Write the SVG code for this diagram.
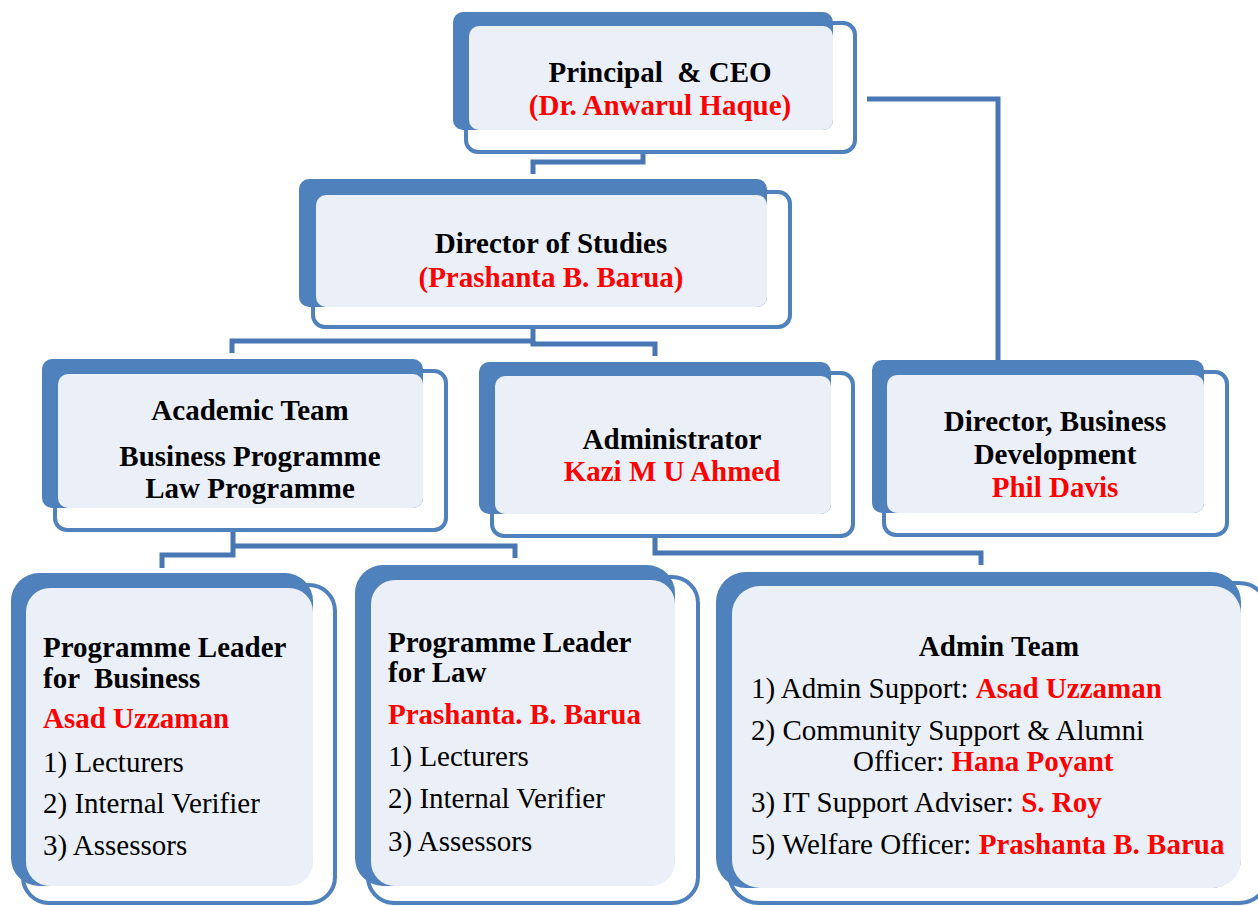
<svg xmlns="http://www.w3.org/2000/svg" width="1258" height="906" viewBox="0 0 1258 906">
<style>
.a{fill:#4F81BD}
.b{fill:#FFFFFF;stroke:#4F81BD;stroke-width:4}
.l{fill:#EBF0F8}
.c{fill:none;stroke:#4877B3;stroke-width:5}
text{font-family:"Liberation Serif","Times New Roman",serif;font-size:29px;fill:#000}
.h{font-weight:bold}
.m{text-anchor:middle}
.r{fill:#FF0000;font-weight:bold}
</style>
<rect width="1258" height="906" fill="#FFFFFF"/>
<g id="connectors">
<path class="c" d="M643,150 V162 H533 V174"/>
<path class="c" d="M867,99 H998 V362"/>
<path class="c" d="M533,325 V341 H232 V353"/>
<path class="c" d="M533,341 V344 H655 V356"/>
<path class="c" d="M233,528 V555 H162 V568"/>
<path class="c" d="M233,546 H515 V558"/>
<path class="c" d="M655,534 V553 H981 V565"/>
</g>
<g id="principal">
<rect class="b" x="466" y="23" width="389" height="129" rx="12"/>
<rect class="a" x="453" y="12" width="380" height="118" rx="10"/>
<rect class="l" x="469" y="26" width="364" height="104" rx="10"/>
<text class="h m" x="660" y="82" xml:space="preserve">Principal  &amp; CEO</text>
<text class="r m" x="660" y="115">(Dr. Anwarul Haque)</text>
</g>
<g id="director-studies">
<rect class="b" x="313" y="192" width="477" height="135" rx="12"/>
<rect class="a" x="299" y="179" width="468" height="128" rx="10"/>
<rect class="l" x="316" y="195" width="451" height="112" rx="10"/>
<text class="h m" x="551" y="253">Director of Studies</text>
<text class="r m" x="551" y="287">(Prashanta B. Barua)</text>
</g>
<g id="academic-team">
<rect class="b" x="55" y="371" width="391" height="159" rx="12"/>
<rect class="a" x="42" y="359" width="381" height="149" rx="10"/>
<rect class="l" x="58" y="374" width="365" height="134" rx="10"/>
<text class="h m" x="250" y="420">Academic Team</text>
<text class="h m" x="250" y="466">Business Programme</text>
<text class="h m" x="250" y="498">Law Programme</text>
</g>
<g id="administrator">
<rect class="b" x="492" y="373" width="361" height="163" rx="12"/>
<rect class="a" x="479" y="362" width="352" height="152" rx="10"/>
<rect class="l" x="495" y="376" width="336" height="138" rx="10"/>
<text class="h m" x="672" y="449">Administrator</text>
<text class="r m" x="672" y="481">Kazi M U Ahmed</text>
</g>
<g id="director-business">
<rect class="b" x="884" y="372" width="343" height="163" rx="12"/>
<rect class="a" x="872" y="360" width="332" height="153" rx="10"/>
<rect class="l" x="887" y="375" width="317" height="138" rx="10"/>
<text class="h m" x="1055" y="431">Director, Business</text>
<text class="h m" x="1055" y="464">Development</text>
<text class="r m" x="1055" y="497">Phil Davis</text>
</g>
<g id="pl-business">
<rect class="b" x="23" y="585" width="312" height="318" rx="26"/>
<rect class="a" x="11" y="573" width="302" height="313" rx="28"/>
<rect class="l" x="26" y="588" width="287" height="298" rx="24"/>
<text class="h" x="43" y="657">Programme Leader</text>
<text class="h" x="43" y="688" xml:space="preserve">for  Business</text>
<text class="r" x="43" y="728">Asad Uzzaman</text>
<text x="43" y="772">1) Lecturers</text>
<text x="43" y="813">2) Internal Verifier</text>
<text x="43" y="855">3) Assessors</text>
</g>
<g id="pl-law">
<rect class="b" x="368" y="577" width="330" height="326" rx="26"/>
<rect class="a" x="355" y="565" width="320" height="321" rx="28"/>
<rect class="l" x="371" y="580" width="304" height="306" rx="24"/>
<text class="h" x="388" y="652">Programme Leader</text>
<text class="h" x="388" y="682">for Law</text>
<text class="r" x="388" y="724">Prashanta. B. Barua</text>
<text x="388" y="766">1) Lecturers</text>
<text x="388" y="808">2) Internal Verifier</text>
<text x="388" y="851">3) Assessors</text>
</g>
<g id="admin-team">
<rect class="b" x="729" y="583" width="540" height="320" rx="30"/>
<rect class="a" x="716" y="572" width="525" height="316" rx="30"/>
<rect class="l" x="732" y="586" width="509" height="302" rx="28"/>
<text class="h m" x="999" y="656">Admin Team</text>
<text x="751" y="698">1) Admin Support: <tspan class="r">Asad Uzzaman</tspan></text>
<text x="751" y="740">2) Community Support &amp; Alumni</text>
<text x="853" y="771">Officer: <tspan class="r">Hana Poyant</tspan></text>
<text x="751" y="812">3) IT Support Adviser: <tspan class="r">S. Roy</tspan></text>
<text x="751" y="854">5) Welfare Officer: <tspan class="r">Prashanta B. Barua</tspan></text>
</g>
</svg>
